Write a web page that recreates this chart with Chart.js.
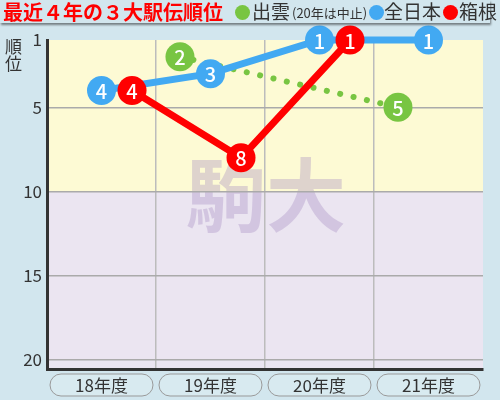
<!DOCTYPE html>
<html>
<head>
<meta charset="utf-8">
<script src="https://cdn.jsdelivr.net/npm/chart.js@4/dist/chart.umd.min.js"></script>
<style>
  body { margin: 0; background: #d2e6ee; font-family: "Noto Sans CJK JP", sans-serif; }
  #wrap { position: relative; width: 500px; height: 400px; overflow: hidden; }
  #head {
    position: absolute; left: 0; top: 0; width: 490px; height: 23px;
    background: #d2e6ee; box-shadow: 1px 2px 2px rgba(0,0,0,0.45);
  }
  #title {
    position: absolute; left: 3px; top: -3px; color: #ff0000;
    font-size: 20px; font-weight: bold; white-space: nowrap;
  }
  .lg { position: absolute; top: -3px; color: #333; font-size: 19px; white-space: nowrap; line-height: 28px; }
  .lg.small { font-size: 13px; top: -1px; }
  .dot { position: absolute; top: 5px; width: 15px; height: 15px; border-radius: 50%; }
  #ylabel { position: absolute; left: 5px; top: 37px; font-size: 17px; line-height: 17px; color: #333; }
</style>
</head>
<body>
<div id="wrap">
  <canvas id="myChart1" width="500" height="400"></canvas>
  <div id="head">
    <div id="title">最近４年の３大駅伝順位</div>
    <span class="dot" style="left:235px;background:#78c542"></span>
    <span class="lg" style="left:252px">出雲</span>
    <span class="lg small" style="left:292px">(20年は中止)</span>
    <span class="dot" style="left:369px;background:#42a9f2"></span>
    <span class="lg" style="left:384px">全日本</span>
    <span class="dot" style="left:443px;background:#ff0000"></span>
    <span class="lg" style="left:459px">箱根</span>
  </div>
  <div id="ylabel">順<br>位</div>
</div>
<script>
// 年度と順位
const seasons = ['18年度', '19年度', '20年度', '21年度'];
const izumo = [null, 2, null, 5];      // 20年は中止
const zennihon = [4, 3, 1, 1];
const hakone = [4, 8, 1, null];
const yTicks = [1, 5, 10, 15, 20];

const blue = '#42a9f2';
const red = '#ff0000';
const green = '#78c542';

// 各年度の中央からずらして描く
function toPoints(values, shift) {
    const pts = [];
    values.forEach((v, i) => {
        if (v !== null) pts.push({ x: i + 0.5 + shift, y: v });
    });
    return pts;
}

// 背景の帯と透かし
const backgroundPlugin = {
    id: 'bands',
    beforeDraw(chart) {
        const { ctx, chartArea, scales } = chart;
        const y10 = scales.y.getPixelForValue(10);
        ctx.save();
        ctx.fillStyle = '#fdfad4';
        ctx.fillRect(chartArea.left, chartArea.top, chartArea.width, y10 - chartArea.top);
        ctx.fillStyle = '#ebe5f1';
        ctx.fillRect(chartArea.left, y10, chartArea.width, chartArea.bottom - y10);
        ctx.fillStyle = 'rgba(160, 130, 190, 0.32)';
        ctx.font = 'bold 80px "Noto Sans CJK JP"';
        ctx.textAlign = 'center';
        ctx.textBaseline = 'middle';
        ctx.fillText('駒大', (chartArea.left + chartArea.right) / 2 + 1, chartArea.top + 155);
        ctx.restore();
    }
};

// 丸の中の順位
const pointLabelPlugin = {
    id: 'pointLabels',
    afterDatasetDraw(chart, args) {
        const { ctx } = chart;
        const ds = chart.data.datasets[args.index];
        if (!ds.showNumbers) return;
        ctx.save();
        ctx.fillStyle = '#ffffff';
        ctx.font = '500 20px "Noto Sans CJK JP"';
        ctx.textAlign = 'center';
        ctx.textBaseline = 'middle';
        args.meta.data.forEach((pt, j) => {
            ctx.fillText(String(ds.data[j].y), pt.x, pt.y + 1);
        });
        ctx.restore();
    }
};

// 年度ラベル（角丸の枠）
const seasonLabelPlugin = {
    id: 'seasonLabels',
    afterDraw(chart) {
        const { ctx, scales, chartArea } = chart;
        ctx.save();
        seasons.forEach((s, i) => {
            const x0 = scales.x.getPixelForValue(i) + 3;
            const x1 = scales.x.getPixelForValue(i + 1) - 3;
            const top = chartArea.bottom + 5;
            const h = 22;
            ctx.beginPath();
            ctx.roundRect(x0, top, x1 - x0, h, h / 2);
            ctx.fillStyle = '#d8eaf0';
            ctx.fill();
            ctx.strokeStyle = '#999';
            ctx.lineWidth = 1;
            ctx.stroke();
            ctx.fillStyle = '#333';
            ctx.font = '17px "Noto Sans CJK JP"';
            ctx.textAlign = 'center';
            ctx.textBaseline = 'middle';
            ctx.fillText(s, (x0 + x1) / 2, top + h / 2 + 1);
        });
        ctx.restore();
    }
};

document.addEventListener('DOMContentLoaded', function() {
    const ctx = document.getElementById('myChart1').getContext('2d');

    new Chart(ctx, {
        type: 'line',
        data: {
            datasets: [
                {
                    label: '箱根',
                    data: toPoints(hakone, 0.28),
                    borderColor: red,
                    backgroundColor: red,
                    borderWidth: 7,
                    pointRadius: 14.5,
                    pointHoverRadius: 14.5,
                    pointBorderWidth: 0,
                    clip: false,
                    order: 1,
                    showNumbers: true
                },
                {
                    label: '全日本',
                    data: toPoints(zennihon, 0),
                    borderColor: blue,
                    backgroundColor: blue,
                    borderWidth: 7,
                    pointRadius: 14.5,
                    pointHoverRadius: 14.5,
                    pointBorderWidth: 0,
                    clip: false,
                    order: 2,
                    showNumbers: true
                },
                {
                    label: '出雲',
                    data: toPoints(izumo, -0.28),
                    borderColor: green,
                    backgroundColor: green,
                    borderWidth: 6,
                    borderDash: [0.1, 13.6],
                    borderCapStyle: 'round',
                    pointRadius: 14.5,
                    pointHoverRadius: 14.5,
                    pointBorderWidth: 0,
                    clip: false,
                    order: 3,
                    showNumbers: true
                }
            ]
        },
        options: {
            responsive: false,
            animation: false,
            layout: {
                padding: { top: 40, right: 17, bottom: 0, left: 0 }
            },
            scales: {
                x: {
                    type: 'linear',
                    min: 0,
                    max: 4,
                    ticks: { stepSize: 1, display: false },
                    grid: {
                        drawTicks: false,
                        lineWidth: 1.5,
                        color: c => (c.tick.value > 0 && c.tick.value < 4) ? '#bcbcbc' : 'rgba(0,0,0,0)'
                    },
                    border: { color: '#333', width: 3 },
                    afterFit: scale => { scale.height = 31; }
                },
                y: {
                    reverse: true,
                    min: 1,
                    max: 20.55,
                    afterBuildTicks: scale => {
                        scale.ticks = yTicks.map(v => ({ value: v }));
                    },
                    ticks: {
                        padding: 5,
                        color: '#333',
                        font: { family: '"Noto Sans CJK JP"', size: 17 }
                    },
                    grid: {
                        drawTicks: false,
                        lineWidth: 1.5,
                        color: c => c.tick.value === 1 ? 'rgba(0,0,0,0)' : '#aaaaaa'
                    },
                    border: { color: '#333', width: 3 },
                    afterFit: scale => { scale.width = 47; }
                }
            },
            plugins: {
                legend: { display: false },
                tooltip: { enabled: false }
            }
        },
        plugins: [backgroundPlugin, pointLabelPlugin, seasonLabelPlugin]
    });
});
</script>
</body>
</html>
